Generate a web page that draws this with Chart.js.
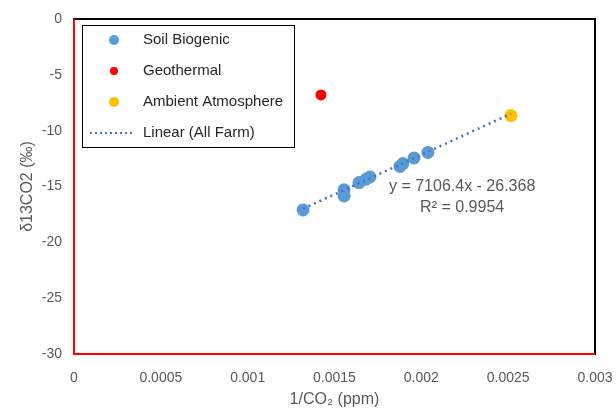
<!DOCTYPE html>
<html>
<head>
<meta charset="utf-8">
<script src="https://cdn.jsdelivr.net/npm/chart.js@4"></script>
<style>
  html, body { margin: 0; padding: 0; background: #fff; }
  #wrap { width: 616px; height: 411px; }
</style>
</head>
<body>
<div id="wrap"><canvas id="isoChart" width="616" height="411"></canvas></div>
<script>
// values
const soilX = [0.001319, 0.001555, 0.001555, 0.001641, 0.001681, 0.001704, 0.001877, 0.001894, 0.001958, 0.002038];
const soilY = [-17.1, -15.3, -15.85, -14.65, -14.35, -14.15, -13.2, -12.95, -12.45, -11.95];
const geoX = [0.001422];
const geoY = [-6.8];
const ambX = [0.002516];
const ambY = [-8.65];
const trendX = [0.001319, 0.002516];
const trendY = [-16.99, -8.49];
const xTicks = [0, 0.0005, 0.001, 0.0015, 0.002, 0.0025, 0.003];
const yTicks = [0, -5, -10, -15, -20, -25, -30];
const eqText = ["y = 7106.4x - 26.368", "R\u00b2 = 0.9954"];

const toPoints = (xs, ys) => xs.map((x, i) => ({ x: x, y: ys[i] }));
const fontFam = "'Liberation Sans', Arial, sans-serif";

const legendItems = [
  { label: "Soil Biogenic", color: "#5B9BD5", r: 5 },
  { label: "Geothermal", color: "#FF0000", r: 4 },
  { label: "Ambient Atmosphere", color: "#FFC000", r: 5 },
  { label: "Linear (All Farm)", color: "#4472C4", line: true },
];

const framePlugin = {
  id: "frame",
  afterDraw(chart) {
    const { ctx, chartArea: a } = chart;
    ctx.save();
    ctx.strokeStyle = "#000";
    ctx.lineWidth = 2;
    ctx.strokeRect(a.left, a.top, a.right - a.left, a.bottom - a.top);
    ctx.strokeStyle = "#FF0000";
    ctx.beginPath();
    ctx.moveTo(a.left, a.top);
    ctx.lineTo(a.left, a.bottom);
    ctx.lineTo(a.right, a.bottom);
    ctx.stroke();

    // legend box
    ctx.fillStyle = "#fff";
    ctx.fillRect(82, 25, 213, 123);
    ctx.strokeStyle = "#000";
    ctx.lineWidth = 1;
    ctx.strokeRect(82.5, 25.5, 212, 122);
    ctx.font = "15px " + fontFam;
    ctx.textBaseline = "middle";
    legendItems.forEach((it, i) => {
      const y = 40 + i * 31;
      if (it.line) {
        ctx.strokeStyle = it.color;
        ctx.lineWidth = 2;
        ctx.setLineDash([2, 3]);
        ctx.beginPath();
        ctx.moveTo(90, y);
        ctx.lineTo(135, y);
        ctx.stroke();
        ctx.setLineDash([]);
      } else {
        ctx.fillStyle = it.color;
        ctx.beginPath();
        ctx.arc(114, y, it.r, 0, Math.PI * 2);
        ctx.fill();
      }
      ctx.fillStyle = "#262626";
      ctx.fillText(it.label, 143, y);
    });

    // trendline equation
    const xs = chart.scales.x, ys = chart.scales.y;
    ctx.fillStyle = "#595959";
    ctx.font = "16px " + fontFam;
    ctx.textAlign = "center";
    ctx.fillText(eqText[0], xs.getPixelForValue(0.002235), ys.getPixelForValue(-15.04));
    ctx.fillText(eqText[1], xs.getPixelForValue(0.002235), ys.getPixelForValue(-16.92));
    ctx.restore();
  },
};

new Chart(document.getElementById("isoChart"), {
  type: "scatter",
  data: {
    datasets: [
      {
        label: "Linear (All Farm)",
        type: "line",
        data: toPoints(trendX, trendY),
        borderColor: "#4472C4",
        borderWidth: 2.5,
        borderDash: [2, 4],
        pointRadius: 0,
        fill: false,
        order: 0,
      },
      {
        label: "Soil Biogenic",
        data: toPoints(soilX, soilY),
        backgroundColor: "#5B9BD5",
        borderWidth: 0,
        pointRadius: 6.5,
        order: 1,
      },
      {
        label: "Geothermal",
        data: toPoints(geoX, geoY),
        backgroundColor: "#FF0000",
        borderWidth: 0,
        pointRadius: 5.5,
        order: 1,
      },
      {
        label: "Ambient Atmosphere",
        data: toPoints(ambX, ambY),
        backgroundColor: "#FFC000",
        borderWidth: 0,
        pointRadius: 6.5,
        order: 1,
      },
    ],
  },
  options: {
    responsive: false,
    animation: false,
    layout: { padding: { top: 19, right: 21, left: 0, bottom: 0 } },
    plugins: { legend: { display: false }, tooltip: { enabled: false } },
    scales: {
      x: {
        type: "linear",
        min: 0,
        max: 0.003,
        afterBuildTicks: (s) => { s.ticks = xTicks.map((v) => ({ value: v })); },
        afterFit: (s) => { s.height = 57; s.paddingLeft = 0; s.paddingRight = 0; },
        grid: { display: false, drawTicks: false },
        border: { display: false },
        ticks: {
          padding: 16,
          color: "#595959",
          font: { size: 14, family: fontFam },
          callback: (v) => String(+v.toFixed(4)),
        },
        title: {
          display: true,
          text: "1/CO\u2082 (ppm)",
          color: "#595959",
          font: { size: 16, family: fontFam },
          padding: { top: 4, bottom: 2 },
        },
      },
      y: {
        min: -30,
        max: 0,
        afterBuildTicks: (s) => { s.ticks = yTicks.map((v) => ({ value: v })); },
        afterFit: (s) => { s.width = 74; s.paddingTop = 0; s.paddingBottom = 0; },
        grid: { display: false, drawTicks: false },
        border: { display: false },
        ticks: {
          padding: 12,
          color: "#595959",
          font: { size: 14, family: fontFam },
        },
        title: {
          display: true,
          text: "\u03b413CO2 (\u2030)",
          color: "#595959",
          font: { size: 16, family: fontFam },
          padding: { top: 18, bottom: 0 },
        },
      },
    },
  },
  plugins: [framePlugin],
});
</script>
</body>
</html>
